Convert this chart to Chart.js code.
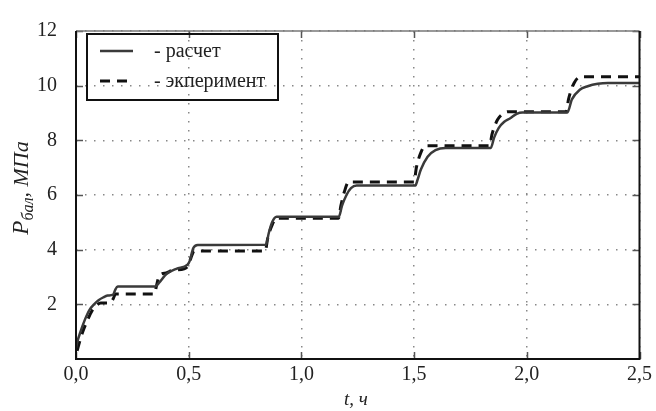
<!DOCTYPE html>
<html lang="ru">
<head>
<meta charset="UTF-8">
<title>Давление в баллоне</title>
<script src="https://cdn.jsdelivr.net/npm/chart.js"></script>
<style>
    body { margin: 0; background: #fff; }
    #wrap { width: 656px; height: 411px; position: relative; }
</style>
</head>
<body>
<div id="wrap"><canvas id="pressureChart"></canvas></div>
<script>
// t, ч  /  P, МПа
const tCalc = [0, 0.005, 0.02, 0.04, 0.06, 0.08, 0.10, 0.12, 0.14, 0.165, 0.175, 0.185, 0.35, 0.37, 0.40, 0.445, 0.495, 0.505, 0.52, 0.54,
    0.843, 0.855, 0.87, 0.89, 1.166, 1.18, 1.20, 1.22, 1.245, 1.506, 1.515, 1.53, 1.56, 1.595, 1.64,
    1.84, 1.855, 1.875, 1.90, 1.925, 1.955, 1.98, 2.18, 2.20, 2.235, 2.27, 2.315, 2.36, 2.5];
const pCalc = [0.4, 0.6, 1.0, 1.45, 1.8, 2.0, 2.15, 2.25, 2.32, 2.36, 2.55, 2.65, 2.65, 2.8, 3.1, 3.3, 3.45, 3.6, 4.05, 4.17,
    4.18, 4.6, 5.0, 5.2, 5.2, 5.6, 6.0, 6.25, 6.35, 6.35, 6.55, 6.93, 7.4, 7.64, 7.72,
    7.72, 8.1, 8.45, 8.68, 8.8, 8.97, 9.02, 9.02, 9.5, 9.85, 9.98, 10.07, 10.1, 10.1];

const tExp = [0.005, 0.015, 0.03, 0.05, 0.07, 0.09, 0.11, 0.15, 0.165, 0.175, 0.35, 0.355, 0.37, 0.40, 0.43, 0.48, 0.50, 0.51, 0.525,
    0.84, 0.85, 0.87, 0.89, 1.165, 1.175, 1.19, 1.21, 1.50, 1.51, 1.53, 1.55,
    1.835, 1.845, 1.87, 1.90, 1.915, 2.175, 2.185, 2.21, 2.24, 2.5];
const pExp = [0.3, 0.6, 1.0, 1.4, 1.75, 1.95, 2.05, 2.05, 2.2, 2.38, 2.38, 2.6, 3.05, 3.15, 3.25, 3.3, 3.45, 3.7, 3.95,
    3.95, 4.4, 4.9, 5.15, 5.15, 5.6, 6.1, 6.48, 6.48, 7.0, 7.55, 7.8,
    7.8, 8.2, 8.75, 9.0, 9.05, 9.05, 9.5, 10.1, 10.33, 10.33];

const xTicks = [0, 0.5, 1.0, 1.5, 2.0, 2.5];
const yTicks = [2, 4, 6, 8, 10, 12];

const seriesNames = ['- расчет', '- экперимент'];
const xTitle = 't, ч';

const serif = '"Liberation Serif", "DejaVu Serif", serif';

function toPoints(ts, ps) {
    return ts.map((t, i) => ({ x: t, y: ps[i] }));
}

// frame, inner tick marks, axis titles and legend box
const decorations = {
    id: 'decorations',
    afterDraw(chart) {
        const ctx = chart.ctx;
        const a = chart.chartArea;
        const xs = chart.scales.x, ys = chart.scales.y;
        ctx.save();

        // small inner ticks on all four sides
        ctx.strokeStyle = '#555';
        ctx.lineWidth = 1.5;
        ctx.beginPath();
        xTicks.forEach(v => {
            const px = Math.round(xs.getPixelForValue(v)) + 0.5;
            ctx.moveTo(px, a.top); ctx.lineTo(px, a.top + 7);
            ctx.moveTo(px, a.bottom); ctx.lineTo(px, a.bottom - 7);
        });
        yTicks.forEach(v => {
            const py = Math.round(ys.getPixelForValue(v)) + 0.5;
            ctx.moveTo(a.left, py); ctx.lineTo(a.left + 7, py);
            ctx.moveTo(a.right, py); ctx.lineTo(a.right - 7, py);
        });
        ctx.stroke();

        // frame
        ctx.strokeStyle = '#777';
        ctx.lineWidth = 1.5;
        ctx.beginPath();
        ctx.moveTo(a.left, a.top); ctx.lineTo(a.right, a.top);
        ctx.stroke();
        ctx.strokeStyle = '#111';
        ctx.lineWidth = 2;
        ctx.beginPath();
        ctx.moveTo(a.right, a.top); ctx.lineTo(a.right, a.bottom);
        ctx.lineTo(a.left, a.bottom); ctx.lineTo(a.left, a.top);
        ctx.stroke();

        // x title
        ctx.fillStyle = '#222';
        ctx.font = 'italic 19px ' + serif;
        ctx.textAlign = 'center';
        ctx.textBaseline = 'alphabetic';
        ctx.fillText(xTitle, 356, 405);

        // y title: P with subscript "бал", then ", МПа"
        ctx.translate(28, 188);
        ctx.rotate(-Math.PI / 2);
        ctx.textAlign = 'left';
        const parts = [
            { s: 'P', f: 'italic 23px ' + serif, dy: 0 },
            { s: 'бал', f: 'italic 16px ' + serif, dy: 5 },
            { s: ', МПа', f: 'italic 22px ' + serif, dy: 0 }
        ];
        let w = 0;
        parts.forEach(p => { ctx.font = p.f; p.w = ctx.measureText(p.s).width; w += p.w; });
        let cx = -w / 2;
        parts.forEach(p => { ctx.font = p.f; ctx.fillText(p.s, cx, p.dy); cx += p.w; });
        ctx.setTransform(1, 0, 0, 1, 0, 0);

        // legend
        ctx.strokeStyle = '#111';
        ctx.lineWidth = 2;
        ctx.strokeRect(87, 34, 191, 66);
        ctx.font = '20px ' + serif;
        ctx.textBaseline = 'middle';
        ctx.fillStyle = '#222';
        chart.data.datasets.forEach((ds, i) => {
            const y = 51 + i * 30;
            ctx.strokeStyle = ds.borderColor;
            ctx.lineWidth = ds.borderWidth;
            ctx.setLineDash(ds.borderDash || []);
            ctx.beginPath();
            ctx.moveTo(100, y); ctx.lineTo(133, y);
            ctx.stroke();
            ctx.setLineDash([]);
            ctx.fillText(ds.label, 154, y + 1);
        });
        ctx.restore();
    }
};

new Chart(document.getElementById('pressureChart'), {
    type: 'line',
    data: {
        datasets: [{
            label: seriesNames[0],
            data: toPoints(tCalc, pCalc),
            borderColor: '#3a3a3a',
            borderWidth: 2.5,
            pointRadius: 0,
            cubicInterpolationMode: 'monotone'
        }, {
            label: seriesNames[1],
            data: toPoints(tExp, pExp),
            borderColor: '#111',
            borderWidth: 3,
            borderDash: [10, 7],
            pointRadius: 0,
            cubicInterpolationMode: 'monotone'
        }]
    },
    options: {
        responsive: true,
        maintainAspectRatio: false,
        animation: false,
        layout: { padding: { left: 0, right: 14, top: 23, bottom: 0 } },
        plugins: { legend: { display: false }, tooltip: { enabled: false } },
        scales: {
            x: {
                type: 'linear',
                min: 0, max: 2.5,
                afterBuildTicks: s => { s.ticks = xTicks.map(v => ({ value: v })); },
                afterFit: s => { s.height = 52; },
                ticks: {
                    padding: 4,
                    color: '#222',
                    font: { family: serif, size: 20 },
                    maxRotation: 0,
                    callback: v => v.toFixed(1).replace('.', ',')
                },
                grid: { color: '#888', lineWidth: 1.5, drawTicks: false },
                border: { display: false, dash: [1.5, 7.5] }
            },
            y: {
                min: 0, max: 12,
                afterBuildTicks: s => { s.ticks = [0].concat(yTicks).map(v => ({ value: v })); },
                afterFit: s => { s.width = 76; },
                ticks: {
                    padding: 19,
                    color: '#222',
                    font: { family: serif, size: 20 },
                    callback: v => v === 0 ? '' : String(v)
                },
                grid: { color: '#888', lineWidth: 1.5, drawTicks: false },
                border: { display: false, dash: [1.5, 7.5] }
            }
        }
    },
    plugins: [decorations]
});
</script>
</body>
</html>
